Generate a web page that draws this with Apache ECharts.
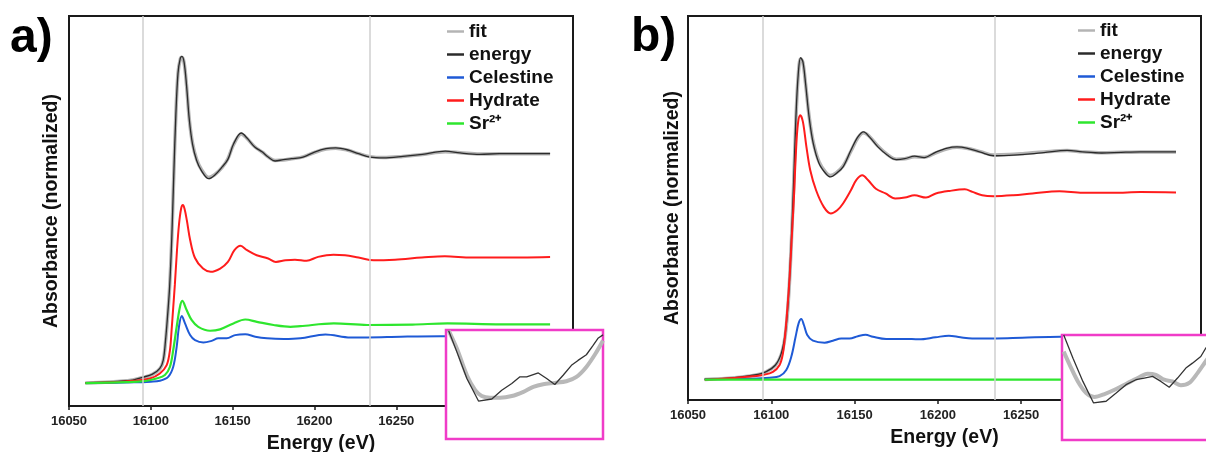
<!DOCTYPE html>
<html>
<head>
<meta charset="utf-8">
<script src="https://cdn.jsdelivr.net/npm/echarts@6/dist/echarts.min.js"></script>
<style>
html,body{margin:0;padding:0;background:#fff;}
#chart{width:1206px;height:452px;}
</style>
</head>
<body>
<div id="chart"></div>
<script>
// ---------- DATA ----------
const xTicks = [16050, 16100, 16150, 16200, 16250, 16300, 16350];
const guideLines = [16095, 16234];
const legendNames = ['fit', 'energy', 'Celestine', 'Hydrate', 'Sr²⁺'];

// Panel a) [energy eV, normalized absorbance]
const aFit = [[16060,0.000],[16075,0.005],[16085,0.010],[16089,0.013],[16095,0.024],[16101,0.038],[16105.5,0.062],[16107.6,0.098],[16109,0.180],[16110.2,0.285],[16111.5,0.420],[16112.8,0.630],[16114,0.900],[16115.3,1.170],[16116.6,1.350],[16118,1.412],[16119,1.420],[16120.3,1.398],[16121.8,1.300],[16123.5,1.150],[16125.5,1.045],[16128,0.975],[16131,0.930],[16135.4,0.896],[16139,0.908],[16143.6,0.940],[16147.1,0.978],[16150.6,1.040],[16155.3,1.086],[16158.8,1.066],[16163.5,1.030],[16168.2,1.006],[16171.7,0.986],[16175.9,0.970],[16181,0.972],[16186,0.978],[16193,0.986],[16200,1.005],[16207,1.020],[16213,1.024],[16220,1.016],[16227,1.000],[16234,0.987],[16242,0.983],[16254,0.988],[16266,0.996],[16280,1.008],[16289,1.004],[16301,0.998],[16313,1.000],[16325,1.000],[16344,1.000]];
const aEnergy = [[16060,0.000],[16075,0.005],[16085,0.010],[16089,0.013],[16095,0.025],[16101,0.039],[16105.5,0.064],[16107.6,0.100],[16109,0.187],[16110.2,0.289],[16111.5,0.420],[16112.8,0.630],[16114,0.900],[16115.3,1.170],[16116.6,1.350],[16118,1.415],[16119,1.424],[16120.3,1.400],[16121.8,1.300],[16123.5,1.150],[16125.5,1.040],[16128,0.970],[16131,0.925],[16135.4,0.891],[16139,0.906],[16143.6,0.942],[16147.1,0.975],[16150.6,1.043],[16155.3,1.090],[16158.8,1.068],[16163.5,1.029],[16168.2,1.007],[16171.7,0.985],[16175.9,0.968],[16181,0.974],[16186,0.978],[16193,0.985],[16200,1.007],[16207,1.022],[16213,1.025],[16220,1.017],[16227,1.000],[16234,0.985],[16242,0.982],[16254,0.988],[16266,0.997],[16280,1.011],[16289,1.003],[16301,0.997],[16313,1.000],[16325,1.000],[16344,1.000]];
const aCelestine = [[16060,0.000],[16090,0.003],[16100,0.006],[16105.5,0.010],[16110.6,0.027],[16113.7,0.071],[16115.8,0.158],[16117.2,0.245],[16118.9,0.292],[16120.9,0.260],[16124,0.209],[16127,0.187],[16132.1,0.177],[16137.2,0.184],[16141.3,0.195],[16146.4,0.195],[16151.5,0.209],[16157.7,0.213],[16163.8,0.202],[16171,0.195],[16181.2,0.192],[16191.4,0.195],[16206.7,0.212],[16222,0.199],[16232.3,0.199],[16252.7,0.202],[16277.2,0.204],[16310,0.203],[16344,0.203]];
const aHydrate = [[16060,0.000],[16080,0.005],[16090,0.010],[16099.4,0.020],[16105.5,0.042],[16109.7,0.078],[16111.7,0.144],[16112.7,0.231],[16113.7,0.330],[16114.7,0.430],[16116,0.580],[16117.2,0.690],[16118.5,0.760],[16119.6,0.776],[16120.6,0.760],[16122,0.710],[16124,0.625],[16127,0.545],[16131.9,0.499],[16136.6,0.485],[16142.4,0.499],[16147.1,0.528],[16151.1,0.579],[16154.8,0.598],[16158.8,0.579],[16164.7,0.557],[16171.7,0.543],[16176.4,0.528],[16182.3,0.535],[16188.1,0.538],[16195.2,0.533],[16202.2,0.550],[16211.6,0.559],[16218.7,0.557],[16226.9,0.547],[16236.3,0.535],[16249.2,0.538],[16265.6,0.547],[16279.7,0.553],[16296.1,0.547],[16312.6,0.547],[16344,0.550]];
const aSr = [[16060,0.000],[16085,0.004],[16096.6,0.009],[16103.5,0.020],[16108.6,0.035],[16111.7,0.071],[16113.7,0.144],[16115.8,0.245],[16117.8,0.332],[16119.2,0.358],[16121.9,0.318],[16125,0.274],[16129,0.245],[16136.2,0.228],[16142.3,0.234],[16150.5,0.260],[16157.7,0.277],[16164.8,0.267],[16175,0.253],[16185.3,0.245],[16191.4,0.248],[16211.8,0.260],[16232.3,0.253],[16260,0.255],[16281.3,0.260],[16314,0.256],[16344,0.256]];

// Panel b)
const bFit = [[16060,0.000],[16078,0.008],[16090,0.019],[16096.7,0.033],[16102.5,0.062],[16106,0.110],[16108.4,0.195],[16110.2,0.340],[16111.8,0.560],[16113.4,0.850],[16114.8,1.145],[16116.2,1.340],[16117.6,1.412],[16119,1.395],[16120.6,1.300],[16122.7,1.160],[16125.2,1.045],[16128.7,0.958],[16132.7,0.912],[16135.5,0.898],[16139,0.910],[16143.1,0.940],[16147.8,1.005],[16152,1.064],[16155.4,1.086],[16158.9,1.070],[16164,1.028],[16169.8,0.990],[16175.1,0.970],[16180.2,0.972],[16186,0.981],[16191.8,0.978],[16198.8,0.998],[16205.7,1.016],[16211.5,1.022],[16217.3,1.018],[16225.5,1.003],[16233.6,0.988],[16242.8,0.990],[16252.1,0.995],[16263.7,1.002],[16277.6,1.008],[16286.9,1.002],[16298.5,0.998],[16310.1,1.000],[16321.7,1.001],[16343,1.002]];
const bEnergy = [[16060,0.000],[16078,0.008],[16090,0.020],[16096.7,0.034],[16102.5,0.064],[16106,0.115],[16108.4,0.203],[16110.2,0.350],[16111.8,0.569],[16113.4,0.863],[16114.8,1.156],[16116.2,1.346],[16117.6,1.417],[16119,1.398],[16120.6,1.302],[16122.7,1.156],[16125.2,1.039],[16128.7,0.951],[16132.7,0.907],[16135.5,0.892],[16139,0.907],[16143.1,0.936],[16147.8,1.009],[16152,1.068],[16155.4,1.090],[16158.9,1.068],[16164,1.024],[16169.8,0.987],[16175.1,0.968],[16180.2,0.972],[16186,0.983],[16191.8,0.977],[16198.8,1.001],[16205.7,1.019],[16211.5,1.024],[16217.3,1.019],[16225.5,1.001],[16233.6,0.985],[16242.8,0.987],[16252.1,0.991],[16263.7,0.999],[16277.6,1.009],[16286.9,1.002],[16298.5,0.997],[16310.1,1.000],[16321.7,1.002],[16343,1.002]];
const bCelestine = [[16060,0.002],[16089,0.004],[16099,0.008],[16105,0.015],[16109,0.042],[16112,0.100],[16114.6,0.188],[16116.4,0.247],[16118,0.266],[16119.6,0.240],[16121.6,0.196],[16125,0.171],[16132,0.162],[16137,0.171],[16142,0.181],[16147,0.181],[16152,0.191],[16156.6,0.197],[16161,0.188],[16169,0.178],[16180,0.179],[16188.6,0.177],[16198.6,0.186],[16206.6,0.193],[16213.6,0.186],[16220.6,0.181],[16234.6,0.181],[16250.6,0.184],[16273.6,0.188],[16310,0.188],[16343,0.188]];
const bHydrate = [[16060,0.000],[16078.2,0.007],[16089.8,0.015],[16095,0.020],[16101,0.034],[16105,0.064],[16107,0.115],[16108.4,0.203],[16109.6,0.306],[16111,0.450],[16112.4,0.640],[16113.6,0.800],[16114.8,1.000],[16116,1.126],[16117.4,1.163],[16119,1.134],[16121.1,1.024],[16123.4,0.921],[16126.9,0.833],[16131.5,0.760],[16135.7,0.731],[16139.6,0.745],[16143.1,0.775],[16147.8,0.833],[16151.2,0.880],[16154.7,0.899],[16158.2,0.877],[16162.8,0.840],[16168.6,0.819],[16174.4,0.797],[16180.2,0.801],[16186,0.811],[16192.9,0.801],[16198.8,0.819],[16206.9,0.830],[16216.2,0.837],[16220.8,0.826],[16226.6,0.811],[16233.6,0.807],[16245.2,0.811],[16256.8,0.819],[16273,0.829],[16286.9,0.822],[16305.5,0.822],[16321.7,0.825],[16343,0.823]];
const bSr = [[16060,0.000],[16150,0.000],[16250,0.000],[16343,0.000]];

// Insets (zoomed detail, arbitrary 0-100 units)
const insetAFit = [[1.7,99.4],[7.0,82.7],[13.3,58.5],[18.6,44.8],[22.8,39.4],[28.1,37.9],[34.5,37.9],[41.9,39.4],[49.3,43.3],[55.6,47.9],[61.9,50.3],[69.3,51.5],[76.7,53.0],[83.1,57.0],[89.4,66.1],[95.8,79.7],[100,90.3]];
const insetAEnergy = [[1.7,99.4],[7.0,79.7],[13.3,55.5],[20.7,34.8],[29.2,36.7],[35.5,44.8],[41.9,50.9],[47.1,57.0],[51.4,57.0],[58.8,60.6],[64.1,55.5],[69.3,50.0],[74.6,58.5],[79.9,67.6],[84.1,72.1],[89.4,77.3],[93.7,85.8],[96.8,92.4],[100,95.5]];
const insetBFit = [[1.1,84.2],[4.9,71.6],[10.1,55.8],[15.4,44.8],[20.7,41.0],[27.1,43.8],[34.5,48.6],[41.9,54.3],[48.2,59.0],[54.5,63.1],[59.8,62.1],[65.1,57.4],[70.4,55.8],[75.7,52.1],[81.0,54.3],[86.3,63.7],[91.5,74.8],[96,84]];
const insetBEnergy = [[1.1,100],[7.0,77.9],[13.3,55.8],[20.1,35.3],[28.1,36.9],[34.5,44.8],[40.8,52.7],[47.1,57.4],[52.4,59.0],[57.7,60.6],[63.0,55.8],[68.3,50.2],[73.6,59.0],[78.9,68.5],[83.1,73.2],[88.4,79.5],[91.5,87.4],[96,94]];

// ---------- STYLE ----------
const FONT = 'Liberation Sans, Arial, sans-serif';
const C = {fit:'#b4b4b4', energy:'#2b2b2b', Celestine:'#1f5ad6', Hydrate:'#ff1c1c', Sr:'#2ee62e', magenta:'#f03cc8', frame:'#1a1a1a'};

function mainSeries(name, data, color, width, gi, extra) {
  return Object.assign({
    name: name, type: 'line', data: data, xAxisIndex: gi, yAxisIndex: gi,
    symbol: 'none', smooth: 0.35, lineStyle: {color: color, width: width},
    itemStyle: {color: color}, animation: false, silent: true, z: 2
  }, extra || {});
}
function guide() {
  return {
    silent: true, symbol: ['none','none'], animation: false,
    label: {show: false},
    lineStyle: {color: '#cfcfcf', width: 1.5, type: 'solid'},
    data: guideLines.map(v => ({xAxis: v}))
  };
}
function xAx(gi) {
  return {
    type: 'value', gridIndex: gi, min: 16050, max: 16358, interval: 50,
    name: 'Energy (eV)', nameLocation: 'middle', nameGap: 28,
    nameTextStyle: {fontFamily: FONT, fontWeight: 'bold', fontSize: 19.5, color: '#111'},
    axisLine: {show: true, onZero: false, lineStyle: {color: C.frame, width: 2}},
    axisTick: {show: true, inside: false, length: 4, lineStyle: {color: C.frame, width: 1.5}},
    axisLabel: {fontFamily: FONT, fontWeight: 'bold', fontSize: 13, color: '#222', margin: 9,
      formatter: v => String(v)},
    splitLine: {show: false}, z: 0
  };
}
function yAx(gi, min, gap) {
  return {
    type: 'value', gridIndex: gi, min: min, max: 1.6,
    name: 'Absorbance (normalized)', nameLocation: 'middle', nameGap: gap,
    nameTextStyle: {fontFamily: FONT, fontWeight: 'bold', fontSize: 19.5, color: '#111'},
    axisLine: {show: false, onZero: false}, axisTick: {show: false}, axisLabel: {show: false},
    splitLine: {show: false}
  };
}
function insetAx(gi) {
  return [
    {type: 'value', gridIndex: gi, min: 0, max: 100, show: false},
    {type: 'value', gridIndex: gi, min: 0, max: 100, show: false}
  ];
}
function legend(left, top) {
  return {
    left: left, top: top, orient: 'vertical', itemGap: 4, padding: 0,
    icon: 'rect', itemWidth: 17, itemHeight: 2.5,
    data: legendNames, selectedMode: false,
    textStyle: {fontFamily: FONT, fontWeight: 'bold', fontSize: 19, color: '#111', lineHeight: 19}
  };
}
function grid(l, t, w, h, color, bw, bg, z) {
  return {left: l, top: t, width: w, height: h, show: true, borderColor: color, borderWidth: bw,
    backgroundColor: bg, z: z, containLabel: false, outerBoundsMode: 'none'};
}

const ia = insetAx(2), ib = insetAx(3);
const option = {
  backgroundColor: '#ffffff',
  animation: false,
  title: [
    {text: 'a)', left: 10, top: 15, padding: 0, textStyle: {fontFamily: FONT, fontWeight: 'bold', fontSize: 48, color: '#000'}},
    {text: 'b)', left: 631, top: 14, padding: 0, textStyle: {fontFamily: FONT, fontWeight: 'bold', fontSize: 48, color: '#000'}}
  ],
  legend: [legend(447, 22), legend(1078, 21)],
  grid: [
    grid(69, 16, 504, 390, C.frame, 2, 'transparent', 0),
    grid(688, 16, 513, 384, C.frame, 2, 'transparent', 0),
    grid(446, 330, 157, 109, C.magenta, 2.5, '#ffffff', 5),
    grid(1062, 335, 157, 105, C.magenta, 2.5, '#ffffff', 5)
  ],
  xAxis: [xAx(0), xAx(1), ia[0], ib[0]],
  yAxis: [yAx(0, -0.1, 7), yAx(1, -0.09, 5), ia[1], ib[1]],
  series: [
    mainSeries('fit', aFit, C.fit, 3.5, 0, {markLine: guide(), z: 1}),
    mainSeries('energy', aEnergy, C.energy, 1.3, 0),
    mainSeries('Celestine', aCelestine, C.Celestine, 2, 0),
    mainSeries('Hydrate', aHydrate, C.Hydrate, 2, 0),
    mainSeries('Sr²⁺', aSr, C.Sr, 2.2, 0),
    mainSeries('fit', bFit, C.fit, 3.5, 1, {markLine: guide(), z: 1}),
    mainSeries('energy', bEnergy, C.energy, 1.3, 1),
    mainSeries('Celestine', bCelestine, C.Celestine, 2, 1),
    mainSeries('Hydrate', bHydrate, C.Hydrate, 2, 1),
    mainSeries('Sr²⁺', bSr, C.Sr, 2.2, 1),
    mainSeries('inset a fit', insetAFit, '#b8b8b8', 4, 2, {smooth: 0.3, z: 8}),
    mainSeries('inset a energy', insetAEnergy, '#333333', 1.3, 2, {smooth: false, z: 9}),
    mainSeries('inset b fit', insetBFit, '#b8b8b8', 4, 3, {smooth: 0.3, z: 8}),
    mainSeries('inset b energy', insetBEnergy, '#333333', 1.3, 3, {smooth: false, z: 9})
  ]
};
const chart = echarts.init(document.getElementById('chart'), null, {renderer: 'canvas'});
chart.setOption(option);
</script>
</body>
</html>
